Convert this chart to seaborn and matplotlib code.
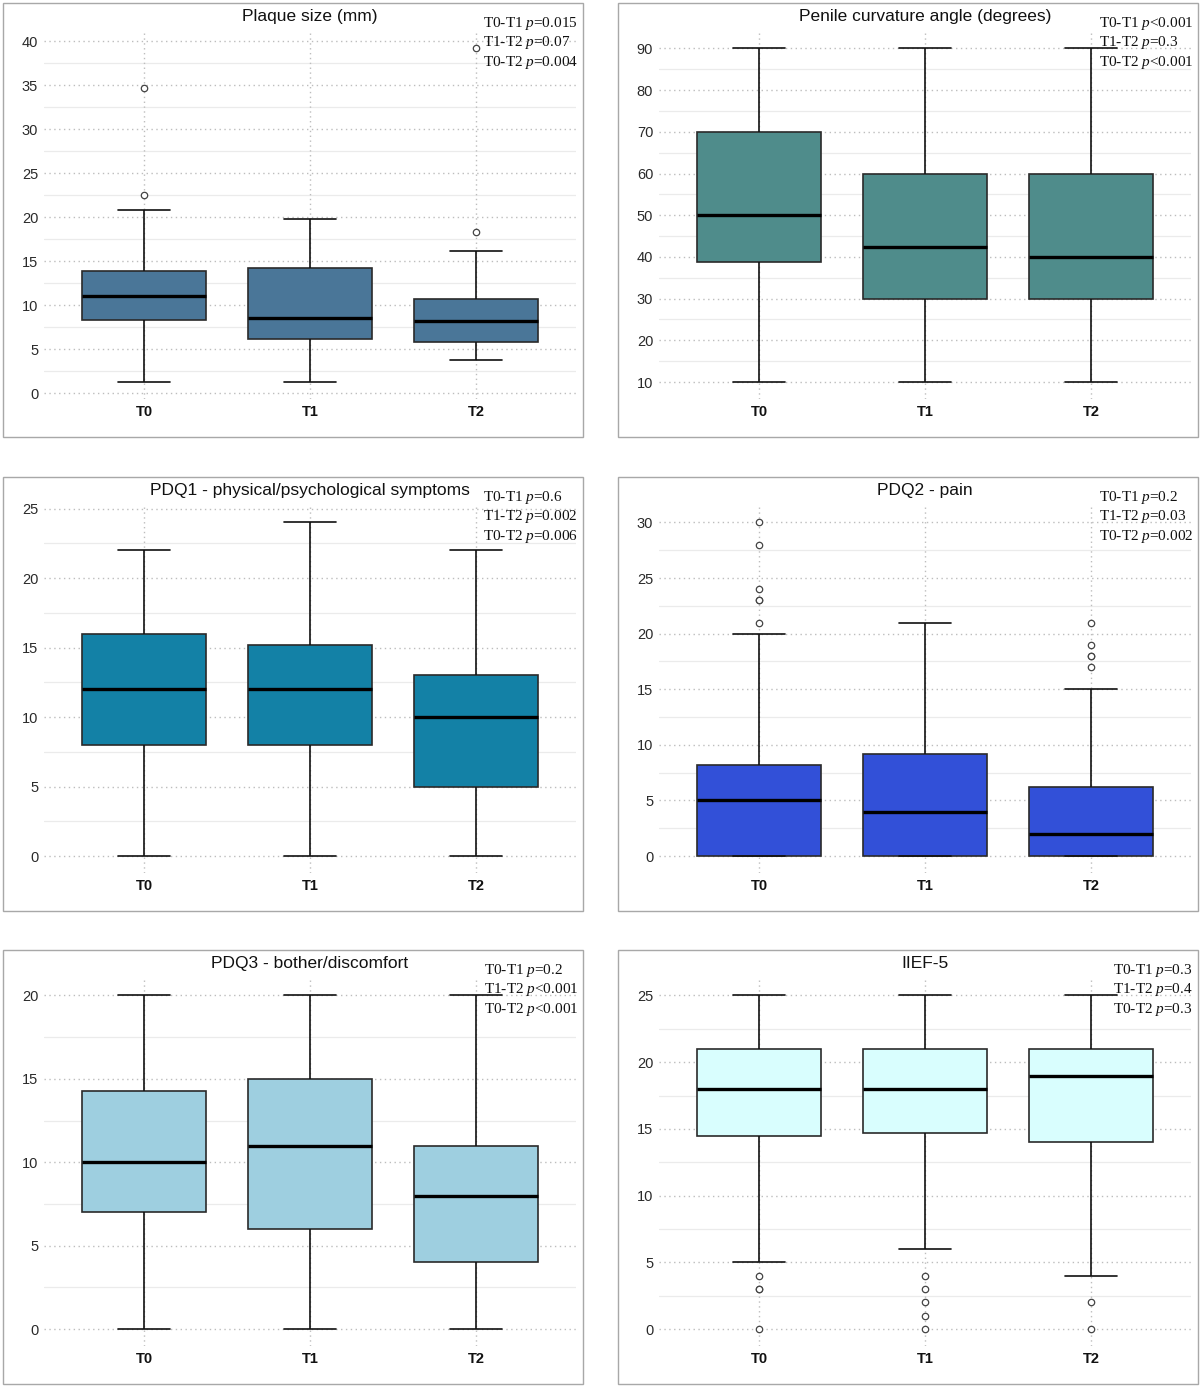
import numpy as np
import pandas as pd
import matplotlib
matplotlib.use("Agg")
import matplotlib.pyplot as plt
from matplotlib.patches import Rectangle
import seaborn as sns

sns.set_theme(style="white")
plt.rcParams["font.family"] = ["Liberation Sans", "DejaVu Sans"]
plt.rcParams["mathtext.fontset"] = "custom"
plt.rcParams["mathtext.rm"] = "Liberation Serif"
plt.rcParams["mathtext.it"] = "Liberation Serif:italic"

# ---------------- data ----------------
times = ["T0", "T1", "T2"]

titles = ["Plaque size (mm)", "Penile curvature angle (degrees)",
          "PDQ1 - physical/psychological symptoms", "PDQ2 - pain",
          "PDQ3 - bother/discomfort", "IIEF-5"]

colors = ["#4A7698", "#4F8C8B", "#1381A6", "#3250D8", "#9ECFE0", "#D9FEFE"]

# five-number summaries per time point: [lower whisker, Q1, median, Q3, upper whisker]
plaque_stats = [[1.3, 8.4, 11.1, 13.9, 20.9], [1.3, 6.2, 8.6, 14.2, 19.8], [3.8, 5.8, 8.2, 10.7, 16.2]]
plaque_fliers = [[22.5, 34.7], [], [18.3, 39.2]]

curv_stats = [[10, 38.8, 50, 70, 90], [10, 30, 42.5, 60, 90], [10, 30, 40, 60, 90]]
curv_fliers = [[], [], []]

pdq1_stats = [[0, 8, 12, 16, 22], [0, 8, 12, 15.2, 24], [0, 5, 10, 13, 22]]
pdq1_fliers = [[], [], []]

pdq2_stats = [[0, 0, 5, 8.2, 20], [0, 0, 4, 9.2, 21], [0, 0, 2, 6.2, 15]]
pdq2_fliers = [[21, 23, 23, 24, 28, 30], [], [17, 18, 18, 19, 21]]

pdq3_stats = [[0, 7, 10, 14.25, 20], [0, 6, 11, 15, 20], [0, 4, 8, 11, 20]]
pdq3_fliers = [[], [], []]

iief_stats = [[5, 14.5, 18, 21, 25], [6, 14.7, 18, 21, 25], [4, 14, 19, 21, 25]]
iief_fliers = [[4, 3, 3, 0], [4, 3, 2, 1, 0], [2, 0]]

pvalues = ["T0-T1 $p$=0.015\nT1-T2 $p$=0.07\nT0-T2 $p$=0.004",
           "T0-T1 $p$<0.001\nT1-T2 $p$=0.3\nT0-T2 $p$<0.001",
           "T0-T1 $p$=0.6\nT1-T2 $p$=0.002\nT0-T2 $p$=0.006",
           "T0-T1 $p$=0.2\nT1-T2 $p$=0.03\nT0-T2 $p$=0.002",
           "T0-T1 $p$=0.2\nT1-T2 $p$<0.001\nT0-T2 $p$<0.001",
           "T0-T1 $p$=0.3\nT1-T2 $p$=0.4\nT0-T2 $p$=0.3"]

yticks = [np.arange(0, 41, 5), np.arange(10, 91, 10), np.arange(0, 26, 5),
          np.arange(0, 31, 5), np.arange(0, 21, 5), np.arange(0, 26, 5)]

all_stats = [plaque_stats, curv_stats, pdq1_stats, pdq2_stats, pdq3_stats, iief_stats]
all_fliers = [plaque_fliers, curv_fliers, pdq1_fliers, pdq2_fliers, pdq3_fliers, iief_fliers]


def sample_from_summary(stats, fliers, rep=20):
    """Rebuild a sample whose box-plot statistics equal the read summary."""
    lo, q1, med, q3, hi = stats
    return [lo] + [q1] * rep + [med] * rep + [q3] * rep + [hi] + list(fliers)


# ---------------- figure layout ----------------
W, H = 1200, 1388
fig = plt.figure(figsize=(W / 100, H / 100), dpi=100)
fig.patch.set_facecolor("white")

panel_x = [3, 618]
panel_y = [3, 477, 950]
PW, PH = 580, 434
AX_L, AX_R, AX_T, AX_B = 41.4, 7.4, 28.8, 38.3

major_col = "#BDBDBD"
minor_col = "#EBEBEB"

for i in range(6):
    r, c = divmod(i, 2)
    px, py = panel_x[c], panel_y[r]
    # panel border
    fig.add_artist(Rectangle((px / W, 1 - (py + PH) / H), PW / W, PH / H,
                             transform=fig.transFigure, fill=False,
                             edgecolor="#A8A8A8", linewidth=1.0))
    left = (px + AX_L) / W
    bottom = 1 - (py + PH - AX_B) / H
    width = (PW - AX_L - AX_R) / W
    height = (PH - AX_T - AX_B) / H
    ax = fig.add_axes([left, bottom, width, height])

    rows = []
    for t, st, fl in zip(times, all_stats[i], all_fliers[i]):
        for v in sample_from_summary(st, fl):
            rows.append({"time": t, "value": v})
    df = pd.DataFrame(rows)

    sns.boxplot(data=df, x="time", y="value", order=times, ax=ax,
                color=colors[i], saturation=1, width=0.75, whis=1.5,
                linecolor="#222222", linewidth=1.2, capwidths=0.31,
                boxprops={"edgecolor": "#2a2a2a", "linewidth": 1.2},
                medianprops={"color": "black", "linewidth": 2.4},
                whiskerprops={"color": "#111111", "linewidth": 1.2},
                capprops={"color": "#111111", "linewidth": 1.2},
                flierprops={"marker": "o", "markerfacecolor": "white",
                            "markeredgecolor": "#444444", "markersize": 4.6,
                            "markeredgewidth": 0.9},
                zorder=3)

    # axis limits with 5% expansion of the data range (ggplot style)
    vals = df["value"].values
    vmin, vmax = vals.min(), vals.max()
    pad = 0.05 * (vmax - vmin)
    y0, y1 = vmin - pad, vmax + pad

    yt = yticks[i]
    ax.set_yticks(yt)
    step = yt[1] - yt[0]
    minors = np.arange(yt[0] - step / 2, yt[-1] + step, step)
    minors = minors[(minors > y0) & (minors < y1)]
    ax.grid(False)
    ax.set_axisbelow(True)
    for m in minors:
        ax.axhline(m, color=minor_col, linewidth=0.9, zorder=0)
    for v in yt:
        ax.axhline(v, color=major_col, linewidth=1.0, linestyle=(0, (1, 2.5)), zorder=0.5)
    for k in range(3):
        ax.axvline(k, color=major_col, linewidth=1.0, linestyle=(0, (1, 2.5)), zorder=0.5)

    ax.set_ylim(y0, y1)
    ax.set_xlim(-0.6, 2.6)

    for s in ax.spines.values():
        s.set_visible(False)
    ax.tick_params(axis="both", which="both", length=0)
    ax.tick_params(axis="y", pad=4.5, labelsize=10.5, labelcolor="#2a2a2a")
    ax.tick_params(axis="x", pad=4.5, labelsize=10.5, labelcolor="#111111")
    for lab in ax.get_xticklabels():
        lab.set_fontweight("bold")
    ax.set_xlabel("")
    ax.set_ylabel("")

    ax.annotate(titles[i], xy=(0.5, 1), xycoords="axes fraction",
                xytext=(0, 10.8), textcoords="offset points",
                ha="center", va="center", fontsize=12.5, color="#111111")

    fig.text((px + PW - 5) / W, 1 - (py + 12) / H, pvalues[i],
             ha="right", va="top", multialignment="left",
             fontsize=11, family="Liberation Serif", color="#111111",
             linespacing=1.2)

fig.savefig("out.png", dpi=100, facecolor="white")
